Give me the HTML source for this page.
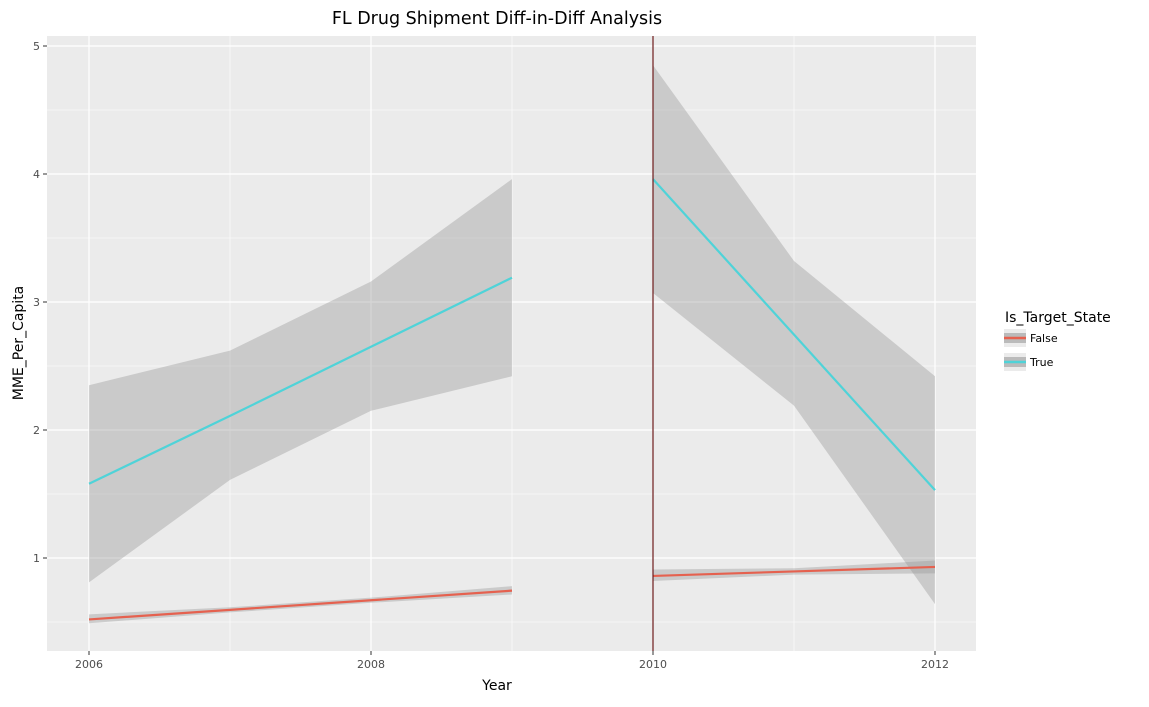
<!DOCTYPE html>
<html><head><meta charset="utf-8"><style>
body{margin:0;background:#fff;font-family:"DejaVu Sans","Liberation Sans",sans-serif;}
svg text{font-family:"DejaVu Sans","Liberation Sans",sans-serif;}
</style></head><body>
<svg id="c" width="1149" height="703" xmlns="http://www.w3.org/2000/svg"></svg>
<script>
const years=[2006,2007,2008,2009,2010,2011,2012];
const trueLine=[1.58,2.11,2.65,3.19,3.96,2.745,1.53];
const trueLo=[0.81,1.61,2.15,2.42,3.07,2.19,0.64];
const trueHi=[2.35,2.62,3.16,3.96,4.85,3.32,2.42];
const falseLine=[0.52,0.595,0.67,0.745,0.86,0.895,0.93];
const falseLo=[0.49,0.575,0.65,0.715,0.82,0.87,0.88];
const falseHi=[0.56,0.615,0.69,0.78,0.91,0.92,0.98];
const xTicks=[2006,2008,2010,2012];
const yTicks=[1,2,3,4,5];
const NS="http://www.w3.org/2000/svg";
const svg=document.getElementById('c');
const X=v=>89+(v-2006)*141;
const Y=v=>558-(v-1)*128;
function el(t,a,p){const e=document.createElementNS(NS,t);for(const k in a)e.setAttribute(k,a[k]);(p||svg).appendChild(e);return e;}
const bg=el('rect',{x:47,y:36,width:929,height:615,fill:'#ebebeb'});


for(let v=0.5;v<=5;v+=1){el('line',{x1:47,x2:976,y1:Y(v),y2:Y(v),stroke:'#fff','stroke-width':0.6});}
[2007,2009,2011].forEach(v=>el('line',{x1:X(v),x2:X(v),y1:36,y2:651,stroke:'#fff','stroke-width':0.6}));
yTicks.forEach(v=>{el('line',{x1:47,x2:976,y1:Y(v),y2:Y(v),stroke:'#fff','stroke-width':1.2});
 el('line',{x1:43,x2:47,y1:Y(v),y2:Y(v),stroke:'#333'});
 const t=el('text',{x:40,y:Y(v)+4,'text-anchor':'end','font-size':11,fill:'#4d4d4d'});t.textContent=v;
 
 });
xTicks.forEach(v=>{el('line',{x1:X(v),x2:X(v),y1:36,y2:651,stroke:'#fff','stroke-width':1.2});
 el('line',{x1:X(v),x2:X(v),y1:651,y2:655,stroke:'#333'});
 const t=el('text',{x:X(v),y:668,'text-anchor':'middle','font-size':11,fill:'#4d4d4d'});t.textContent=v;
 
 });
function seg(i0,i1,lo,hi,line,col,name){
 let pts=[];for(let i=i0;i<=i1;i++)pts.push(X(years[i])+','+Y(hi[i]));
 for(let i=i1;i>=i0;i--)pts.push(X(years[i])+','+Y(lo[i]));
 const r=el('polygon',{points:pts.join(' '),fill:'#999','fill-opacity':0.4});
 
 
 let lp=[];for(let i=i0;i<=i1;i++)lp.push(X(years[i])+','+Y(line[i]));
 const l=el('polyline',{points:lp.join(' '),fill:'none',stroke:col,'stroke-width':2.2});
 
 
}
seg(0,3,trueLo,trueHi,trueLine,'#4fd3d8','true-pre');
seg(4,6,trueLo,trueHi,trueLine,'#4fd3d8','true-post');
seg(0,3,falseLo,falseHi,falseLine,'#e5614f','false-pre');
seg(4,6,falseLo,falseHi,falseLine,'#e5614f','false-post');
const vl=el('line',{x1:X(2010),x2:X(2010),y1:36,y2:651,stroke:'#6b1a1a','stroke-width':1.2});


function txt(s,a,name){const t=el('text',a);t.textContent=s;return t;}
txt('FL Drug Shipment Diff-in-Diff Analysis',{x:497,y:24,'text-anchor':'middle','font-size':17.5,fill:'#000'},'chart-title');
txt('Year',{x:497,y:690,'text-anchor':'middle','font-size':14,fill:'#000'},'x-axis-title');
txt('MME_Per_Capita',{x:23,y:343,'text-anchor':'middle','font-size':14,fill:'#000',transform:'rotate(-90 23 343)'},'y-axis-title');
txt('Is_Target_State',{x:1005,y:322,'font-size':14,fill:'#000'},'legend-title');
[['False','#e5614f',338],['True','#4fd3d8',362]].forEach(([n,c,y])=>{
 const g=el('g',{});
 el('rect',{x:1004,y:y-9,width:22,height:18,fill:'#ebebeb'},g);
 el('rect',{x:1004,y:y-5,width:22,height:10,fill:'#999','fill-opacity':0.6},g);
 el('line',{x1:1004,x2:1026,y1:y,y2:y,stroke:c,'stroke-width':2.5},g);
 const t=el('text',{x:1030,y:y+4,'font-size':11,fill:'#000'},g);t.textContent=n;});
</script>
</body></html>
